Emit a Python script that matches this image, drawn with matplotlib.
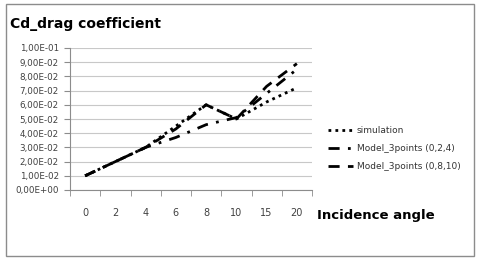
import matplotlib
matplotlib.use("Agg")
import matplotlib.pyplot as plt
from matplotlib.patches import Rectangle
import numpy as np

categories = ["0", "2", "4", "6", "8", "10", "15", "20"]
simulation = [0.010, 0.020, 0.030, 0.045, 0.060, 0.050, 0.062, 0.072]
model_024 = [0.010, 0.020, 0.030, 0.037, 0.046, 0.051, 0.068, 0.085]
model_0810 = [0.010, 0.020, 0.030, 0.043, 0.060, 0.050, 0.073, 0.089]
y_ticks = [0.0, 0.01, 0.02, 0.03, 0.04, 0.05, 0.06, 0.07, 0.08, 0.09, 0.10]
y_labels = ["0,00E+00", "1,00E-02", "2,00E-02", "3,00E-02", "4,00E-02", "5,00E-02",
            "6,00E-02", "7,00E-02", "8,00E-02", "9,00E-02", "1,00E-01"]

fig = plt.figure(figsize=(4.8, 2.61), dpi=100)
fig.patch.set_facecolor("white")
fig.add_artist(Rectangle((6/480, 1-256/261), 468/480, 252/261, transform=fig.transFigure,
                         fill=False, edgecolor="#8c8c8c", linewidth=1.0))

ax = fig.add_axes([70/480, 1-190/261, 242/480, 142/261])
x = np.arange(len(categories))
ax.plot(x, simulation, color="black", linestyle=(0, (1, 1.5)), linewidth=2.0, label="simulation")
ax.plot(x, model_024, color="black", linestyle=(0, (4, 3, 1, 3)), linewidth=2.0, label="Model_3points (0,2,4)")
ax.plot(x, model_0810, color="black", linestyle=(0, (4, 3)), linewidth=2.0, label="Model_3points (0,8,10)")

ax.set_xlim(-0.5, len(categories) - 0.5)
ax.set_ylim(0, 0.1)
ax.set_yticks(y_ticks)
ax.set_yticklabels(y_labels, fontsize=6.3, color="#404040")
ax.set_xticks(x)
ax.set_xticklabels(categories, fontsize=7, color="#404040")
ax.set_xticks(np.arange(-0.5, len(categories)), minor=True)
ax.tick_params(axis="x", which="major", length=0, pad=13)
ax.tick_params(axis="x", which="minor", length=4, color="#8c8c8c")
ax.tick_params(axis="y", length=4, color="#8c8c8c", pad=4)
ax.grid(axis="y", color="#c8c8c8", linewidth=0.8)
ax.set_axisbelow(True)
for s in ["top", "right"]:
    ax.spines[s].set_visible(False)
ax.spines["left"].set_color("#8c8c8c")
ax.spines["bottom"].set_color("#8c8c8c")

leg = fig.legend(loc="upper left", bbox_to_anchor=(320/480, 1-118/261), frameon=False,
                 fontsize=6.5, handlelength=2.7, handletextpad=0.5, labelspacing=1.0)
for t in leg.get_texts():
    t.set_color("#333333")

fig.text(10/480, 1-24/261, "Cd_drag coefficient", fontsize=10, fontweight="bold",
         va="center", ha="left", family="DejaVu Sans")
fig.text(317/480, 1-215/261, "Incidence angle", fontsize=9.5, fontweight="bold",
         va="center", ha="left", family="DejaVu Sans")

fig.savefig("out.png", dpi=100)
